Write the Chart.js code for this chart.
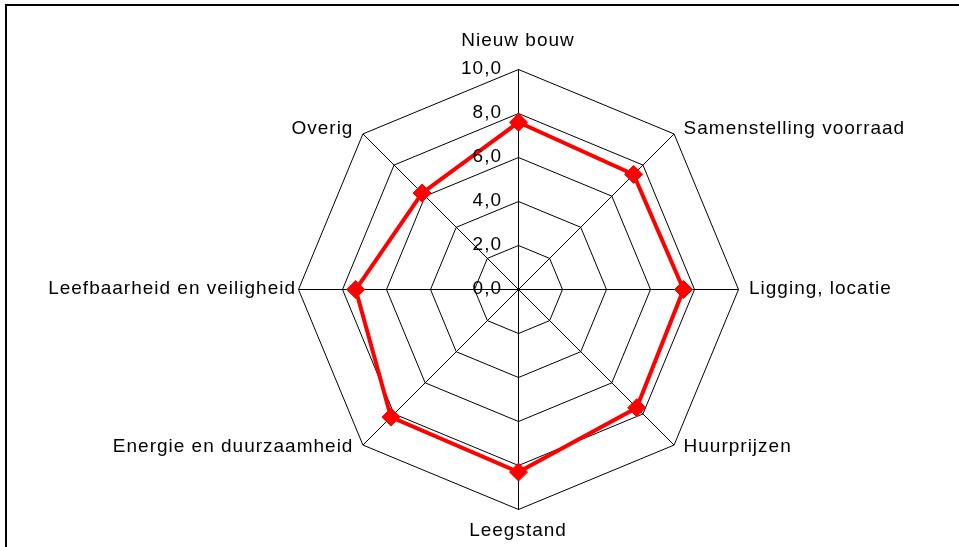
<!DOCTYPE html>
<html>
<head>
<meta charset="utf-8">
<script src="https://cdn.jsdelivr.net/npm/chart.js@4.4.0/dist/chart.umd.min.js"></script>
<style>
  html, body { margin: 0; padding: 0; background: #fff; overflow: hidden; }
  #wrap { position: relative; width: 959px; height: 547px; overflow: hidden; }
  #frame { position: absolute; left: 5px; top: 4px; width: 1200px; height: 1200px;
           border-left: 2px solid #000; border-top: 2px solid #000; }
  #chart { position: absolute; left: 0; top: 0; }
</style>
</head>
<body>
<div id="wrap">
  <div id="frame"></div>
  <canvas id="chart" width="959" height="547"></canvas>
</div>
<script>
const categories = ['Nieuw bouw', 'Samenstelling voorraad', 'Ligging, locatie', 'Huurprijzen',
                    'Leegstand', 'Energie en duurzaamheid', 'Leefbaarheid en veiligheid', 'Overig'];
const scores = [7.6, 7.4, 7.5, 7.6, 8.3, 8.2, 7.4, 6.2];
const tickValues = [0, 2, 4, 6, 8, 10];
const tickLabels = ['0,0', '2,0', '4,0', '6,0', '8,0', '10,0'];

const FONT = '19px "Liberation Sans", Arial, sans-serif';

// crisp 1px lines: shift drawing by half a pixel
const halfPixel = {
  id: 'halfPixel',
  beforeDraw(chart) { chart.ctx.save(); chart.ctx.translate(0.5, 0.5); },
  afterDraw(chart) { chart.ctx.restore(); }
};

// excel-like placement of category and tick labels
const labelsPlugin = {
  id: 'excelLabels',
  afterDraw(chart) {
    const s = chart.scales.r;
    const ctx = chart.ctx;
    ctx.save();
    ctx.font = FONT;
    ctx.fillStyle = '#000';
    ctx.textBaseline = 'middle';
    if ('letterSpacing' in ctx) ctx.letterSpacing = '1px';

    chart.data.labels.forEach((text, i) => {
      const p = s.getPointPosition(i, s.drawingArea);
      const dx = p.x - s.xCenter, dy = p.y - s.yCenter;
      let x = p.x, y = p.y, align = 'center';
      if (Math.abs(dx) < 1) {
        y = dy < 0 ? p.y - 28.5 : p.y + 22;
      } else if (Math.abs(dy) < 1) {
        align = dx > 0 ? 'left' : 'right';
        x = dx > 0 ? p.x + 11 : p.x - 2;
      } else {
        align = dx > 0 ? 'left' : 'right';
        x = dx > 0 ? p.x + 10 : p.x - 9;
        y = dy < 0 ? p.y - 5 : p.y + 2.5;
      }
      ctx.textAlign = align;
      ctx.fillText(text, x, y);
    });

    ctx.textAlign = 'right';
    tickValues.forEach((v, i) => {
      const d = s.getDistanceFromCenterForValue(v);
      ctx.fillText(tickLabels[i], s.xCenter - 16, s.yCenter - d);
    });
    ctx.restore();
  }
};

new Chart(document.getElementById('chart'), {
  type: 'radar',
  data: {
    labels: categories,
    datasets: [{
      data: scores,
      borderColor: '#FF0000',
      borderWidth: 4,
      backgroundColor: '#FF0000',
      fill: false,
      tension: 0,
      pointStyle: 'rectRot',
      pointRadius: 9,
      pointBackgroundColor: '#FF0000',
      pointBorderColor: '#FF0000',
      pointBorderWidth: 1
    }]
  },
  options: {
    responsive: false,
    animation: false,
    layout: { padding: { left: 298, right: 221, top: 69, bottom: 38 } },
    plugins: { legend: { display: false }, tooltip: { enabled: false } },
    scales: {
      r: {
        min: 0,
        max: 10,
        ticks: { display: false, stepSize: 2 },
        pointLabels: { display: false },
        grid: { color: '#000', lineWidth: 1 },
        angleLines: { color: '#000', lineWidth: 1 }
      }
    }
  },
  plugins: [halfPixel, labelsPlugin]
});
</script>
</body>
</html>
